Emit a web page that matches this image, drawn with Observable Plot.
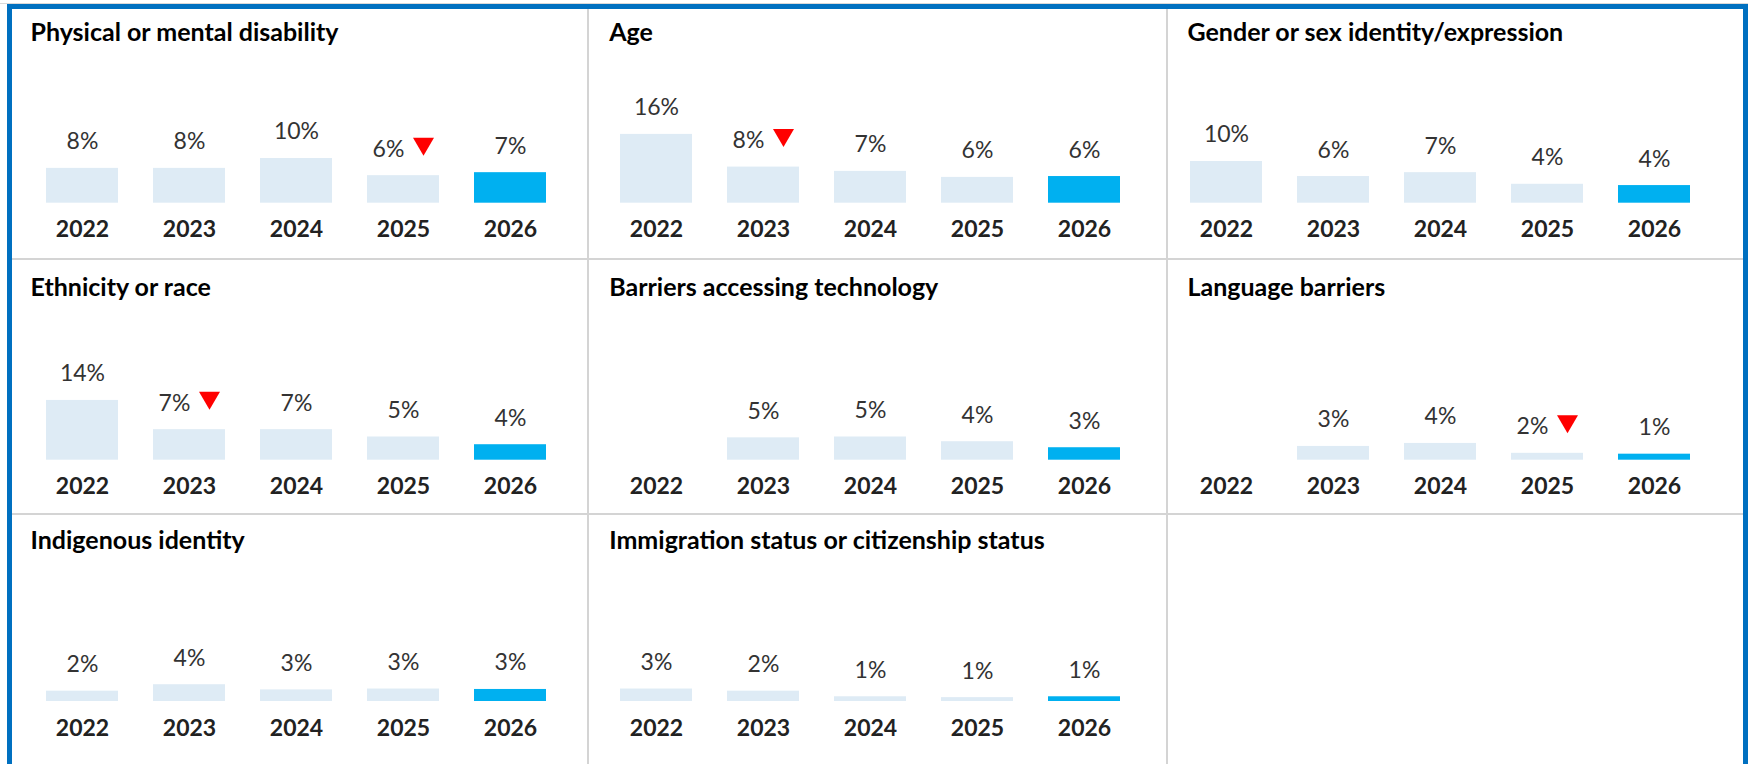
<!DOCTYPE html>
<html>
<head>
<meta charset="utf-8">
<script src="https://cdn.jsdelivr.net/npm/d3@7"></script>
<script src="https://cdn.jsdelivr.net/npm/@observablehq/plot@0.6"></script>
<style>
  html, body { margin: 0; padding: 0; background: #fff; }
  #root { position: relative; width: 1748px; height: 764px; overflow: hidden; background: #fff; }
  .line { position: absolute; background: #d4d4d4; }
  .panel { position: absolute; }
</style>
</head>
<body>
<div id="root"></div>
<script>
// ---- data ----
const years = ["2022", "2023", "2024", "2025", "2026"];
const categories = [
  "Physical or mental disability",
  "Age",
  "Gender or sex identity/expression",
  "Ethnicity or race",
  "Barriers accessing technology",
  "Language barriers",
  "Indigenous identity",
  "Immigration status or citizenship status"
];
const disability  = [8.1, 8.1, 10.4, 6.4, 7.1];
const age         = [16.0, 8.4, 7.4, 6.0, 6.2];
const gender      = [9.7, 6.2, 7.1, 4.4, 4.1];
const ethnicity   = [13.9, 7.1, 7.1, 5.4, 3.6];
const technology  = [null, 5.2, 5.4, 4.3, 2.9];
const language    = [null, 3.2, 3.9, 1.6, 1.4];
const indigenous  = [2.4, 3.9, 2.7, 2.9, 2.8];
const immigration = [2.9, 2.4, 1.1, 0.9, 1.1];
const series = [disability, age, gender, ethnicity, technology, language, indigenous, immigration];
const dropYear = ["2025", "2023", null, "2023", null, "2025", null, null];
const highlightYear = "2026";

// ---- layout ----
const root = document.getElementById("root");
function addDiv(cls, css) {
  const d = document.createElement("div");
  d.className = cls;
  Object.assign(d.style, css);
  root.appendChild(d);
  return d;
}
addDiv("line", {left: "0px", top: "3px", width: "1748px", height: "1px", background: "#d9d9d9"});
addDiv("frame", {position: "absolute", left: "7px", top: "4px", width: "1731px", height: "800px",
  border: "5px solid #0070C0", boxSizing: "content-box"});
addDiv("line", {left: "587px", top: "9px", width: "2px", height: "760px"});
addDiv("line", {left: "1166px", top: "9px", width: "2px", height: "760px"});
addDiv("line", {left: "12px", top: "258px", width: "1731px", height: "2px"});
addDiv("line", {left: "12px", top: "513px", width: "1731px", height: "2px"});

const colLeft = [12, 590, 1169];
const colWidth = [575, 576, 572];
const colFirstCenter = [70, 66, 57];
const colTitleX = [18, 18.7, 18];
const rowTop = [9, 260, 515];
const rowHeight = [249, 253, 249];
const rowTitleBase = [31, 35, 33];
const rowBarBottom = [193.7, 199.7, 186];
const rowYearBase = [227, 233, 220];
const pxPerPct = 4.3, step = 107, barW = 72;

const triangleDown = {
  draw(ctx, size) {
    const r = Math.sqrt(size / Math.PI);
    ctx.moveTo(-1.346 * r, -1.15 * r);
    ctx.lineTo(1.346 * r, -1.15 * r);
    ctx.lineTo(0, 1.15 * r);
    ctx.closePath();
  }
};
const fmt = v => Math.round(v) + "%";

categories.forEach((title, i) => {
  const col = i % 3, row = Math.floor(i / 3);
  const data = years.map((year, j) => ({year, value: series[i][j], drop: dropYear[i] === year}))
    .filter(d => d.value != null);
  const c0 = colFirstCenter[col];
  const bb = rowBarBottom[row];
  const pad = 1 - barW / step;
  const chart = Plot.plot({
    width: colWidth[col],
    height: rowHeight[row],
    margin: 0,
    style: {fontFamily: "Lato, 'Open Sans', sans-serif", background: "transparent", overflow: "visible"},
    x: {type: "band", domain: years, range: [c0 - step / 2, c0 + 4 * step + step / 2],
        paddingInner: pad, paddingOuter: pad / 2, axis: null},
    y: {domain: [0, 100], range: [bb, bb - 100 * pxPerPct], axis: null},
    color: {type: "identity"},
    marks: [
      Plot.barY(data, {x: "year", y: "value",
        fill: d => d.year === highlightYear ? "#00B0F0" : "#DEEBF5"}),
      Plot.text(data.filter(d => !d.drop), {x: "year", y: "value", text: d => fmt(d.value),
        lineAnchor: "bottom", dy: -19, fontSize: 23, fill: "#333333"}),
      Plot.text(data.filter(d => d.drop), {x: "year", y: "value", text: d => fmt(d.value),
        lineAnchor: "bottom", dy: -19, dx: -15, fontSize: 23, fill: "#333333"}),
      Plot.dot(data.filter(d => d.drop), {x: "year", y: "value", symbol: triangleDown, r: 7.8,
        fill: "#FF0000", stroke: "none", dx: 20, dy: -29}),
      Plot.text([title], {frameAnchor: "top-left", dx: colTitleX[col], dy: rowTitleBase[row],
        lineAnchor: "bottom", textAnchor: "start", fontWeight: "bold", fontSize: 25, fill: "#000"}),
      Plot.text(years, {x: d => d, frameAnchor: "top", dy: rowYearBase[row], lineAnchor: "bottom",
        fontWeight: "bold", fontSize: 23, fill: "#222222"})
    ]
  });
  const wrap = addDiv("panel", {left: colLeft[col] + "px", top: rowTop[row] + "px"});
  wrap.appendChild(chart);
});
</script>
</body>
</html>
